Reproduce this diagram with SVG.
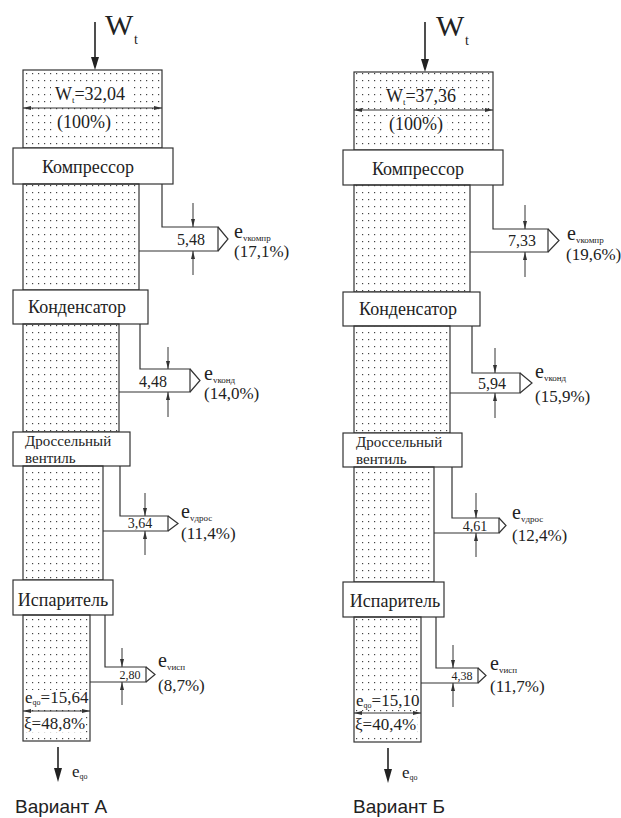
<svg xmlns="http://www.w3.org/2000/svg" width="621" height="818" viewBox="0 0 621 818">
<defs>
<pattern id="dots" patternUnits="userSpaceOnUse" width="6" height="7">
<rect x="2" y="3" width="1.2" height="1.2" fill="#444"/>
</pattern>
<marker id="ah" viewBox="0 0 8 4" refX="8" refY="2" markerWidth="8" markerHeight="4" markerUnits="userSpaceOnUse" orient="auto-start-reverse">
<path d="M0,0 L8,2 L0,4 z" fill="#333"/>
</marker>
</defs>
<style>
.ln{fill:none;stroke:#333;stroke-width:1.2}
.box{fill:#fff;stroke:#333;stroke-width:1.2}
.dot{fill:url(#dots);stroke:#333;stroke-width:1.2}
.dim{fill:none;stroke:#333;stroke-width:1}
.big{stroke:#222;stroke-width:1.6;fill:none}
.head{fill:#222}
text{font-family:"Liberation Serif","DejaVu Serif",serif;fill:#222}
.n18{font-size:18px}
.n16{font-size:15px}
.v16{font-size:16px}
.v14{font-size:14px}
.v12{font-size:12px}
.p17{font-size:17px}
.e20{font-size:20px}
.sub{font-size:9px}
.cap{font-family:"Liberation Sans",Arial,sans-serif;font-size:19px}
.bg{fill:#fff}
</style>

<!-- ===== Variant A ===== -->
<g id="a-input">
<line class="big" x1="95" y1="22" x2="95" y2="60"/>
<polygon class="head" points="91,57 99,57 95,70"/>
<text x="105" y="35" font-size="30">W</text>
<text x="134" y="44" font-size="14">t</text>
</g>
<g id="a-work">
<rect class="dot" x="23" y="70" width="139" height="78"/>
<rect class="bg" x="51" y="87" width="79" height="16"/>
<rect class="bg" x="54" y="114" width="61" height="18"/>
<text class="n18" x="90" y="100" text-anchor="middle">W<tspan font-size="9" dy="3">t</tspan><tspan dy="-3">=32,04</tspan></text>
<line class="dim" x1="23" y1="108" x2="162" y2="108" marker-start="url(#ah)" marker-end="url(#ah)"/>
<text class="n18" x="84" y="128" text-anchor="middle">(100%)</text>
</g>
<g id="a-compressor">
<rect class="box" x="13" y="148" width="160" height="36"/>
<text class="n18" x="88" y="173" text-anchor="middle">Компрессор</text>
</g>
<g id="a-stream1"><rect class="dot" x="23" y="184" width="116" height="106"/></g>
<g id="a-condenser">
<rect class="box" x="13" y="290" width="135" height="34"/>
<text class="n18" x="77" y="313" text-anchor="middle">Конденсатор</text>
</g>
<g id="a-stream2"><rect class="dot" x="23" y="324" width="96" height="108"/></g>
<g id="a-valve">
<rect class="box" x="13" y="432" width="117" height="34"/>
<text class="n16" x="25" y="446">Дроссельный</text>
<text class="n16" x="25" y="463">вентиль</text>
</g>
<g id="a-stream3"><rect class="dot" x="23" y="466" width="80" height="114"/></g>
<g id="a-evaporator">
<rect class="box" x="13" y="580" width="100" height="35"/>
<text class="n18" x="63" y="606" text-anchor="middle">Испаритель</text>
</g>
<g id="a-output">
<rect class="dot" x="23" y="615" width="67" height="126"/>
<rect class="bg" x="24" y="690" width="64" height="16"/>
<rect class="bg" x="24" y="715" width="62" height="17"/>
<text class="p17" x="25" y="703">e<tspan font-size="8" dy="2">qo</tspan><tspan dy="-2">=15,64</tspan></text>
<line class="dim" x1="23" y1="711" x2="90" y2="711" marker-start="url(#ah)" marker-end="url(#ah)"/>
<text class="p17" x="24" y="729">ξ=48,8%</text>
<line class="big" x1="58" y1="747" x2="58" y2="772" stroke-width="2"/>
<polygon class="head" points="54,768 62,768 58,782"/>
<text class="p17" x="72" y="777">e<tspan font-size="8" dy="2">qo</tspan></text>
<text class="cap" x="15" y="813">Вариант А</text>
</g>
<g id="a-connectors">
<path class="ln" d="M162,184 V227 H218 V251 H139"/>
<path class="ln" d="M218,227 L228,239 L218,251"/>
<line class="dim" x1="193" y1="203" x2="193" y2="227" marker-end="url(#ah)"/>
<line class="dim" x1="193" y1="275" x2="193" y2="251" marker-end="url(#ah)"/>
<text class="v16" x="191" y="245" text-anchor="middle">5,48</text>
<text class="e20" x="234" y="238">e<tspan class="sub" dy="3">vкомпр</tspan></text>
<text class="p17" x="234" y="257">(17,1%)</text>

<path class="ln" d="M140,324 V369 H190 V392 H119"/>
<path class="ln" d="M190,369 L200,380.5 L190,392"/>
<line class="dim" x1="168" y1="347" x2="168" y2="369" marker-end="url(#ah)"/>
<line class="dim" x1="168" y1="417" x2="168" y2="392" marker-end="url(#ah)"/>
<text class="v16" x="153" y="387" text-anchor="middle">4,48</text>
<text class="e20" x="204" y="380">e<tspan class="sub" dy="3">vконд</tspan></text>
<text class="p17" x="204" y="399">(14,0%)</text>

<path class="ln" d="M120,466 V516 H168 V531 H103"/>
<path class="ln" d="M168,516 L178,523.5 L168,531"/>
<line class="dim" x1="145" y1="493" x2="145" y2="516" marker-end="url(#ah)"/>
<line class="dim" x1="145" y1="555" x2="145" y2="531" marker-end="url(#ah)"/>
<text class="v14" x="140" y="528" text-anchor="middle">3,64</text>
<text class="e20" x="181" y="518">e<tspan class="sub" dy="3">vдрос</tspan></text>
<text class="p17" x="181" y="539">(11,4%)</text>

<path class="ln" d="M105,615 V667 H146 V682 H90"/>
<path class="ln" d="M146,667 L155,674.5 L146,682"/>
<line class="dim" x1="122" y1="648" x2="122" y2="667" marker-end="url(#ah)"/>
<line class="dim" x1="122" y1="705" x2="122" y2="682" marker-end="url(#ah)"/>
<text class="v12" x="130" y="679" text-anchor="middle">2,80</text>
<text class="e20" x="158" y="667">e<tspan class="sub" dy="3">vисп</tspan></text>
<text class="p17" x="158" y="691">(8,7%)</text>
</g>

<!-- ===== Variant B ===== -->
<g id="b-input">
<line class="big" x1="425" y1="22" x2="425" y2="62"/>
<polygon class="head" points="421,59 429,59 425,72"/>
<text x="436" y="36" font-size="30">W</text>
<text x="465" y="45" font-size="14">t</text>
</g>
<g id="b-work">
<rect class="dot" x="354" y="72" width="139" height="78"/>
<rect class="bg" x="383" y="89" width="77" height="16"/>
<rect class="bg" x="386" y="116" width="61" height="18"/>
<text class="n18" x="421" y="102" text-anchor="middle">W<tspan font-size="9" dy="3">t</tspan><tspan dy="-3">=37,36</tspan></text>
<line class="dim" x1="354" y1="110" x2="493" y2="110" marker-start="url(#ah)" marker-end="url(#ah)"/>
<text class="n18" x="416" y="130" text-anchor="middle">(100%)</text>
</g>
<g id="b-compressor">
<rect class="box" x="343" y="150" width="160" height="35"/>
<text class="n18" x="418" y="175" text-anchor="middle">Компрессор</text>
</g>
<g id="b-stream1"><rect class="dot" x="354" y="185" width="116" height="107"/></g>
<g id="b-condenser">
<rect class="box" x="343" y="292" width="137" height="34"/>
<text class="n18" x="408" y="315" text-anchor="middle">Конденсатор</text>
</g>
<g id="b-stream2"><rect class="dot" x="354" y="326" width="96" height="107"/></g>
<g id="b-valve">
<rect class="box" x="343" y="433" width="119" height="34"/>
<text class="n16" x="356" y="447">Дроссельный</text>
<text class="n16" x="356" y="464">вентиль</text>
</g>
<g id="b-stream3"><rect class="dot" x="354" y="467" width="80" height="115"/></g>
<g id="b-evaporator">
<rect class="box" x="343" y="582" width="101" height="35"/>
<text class="n18" x="395" y="607" text-anchor="middle">Испаритель</text>
</g>
<g id="b-output">
<rect class="dot" x="354" y="617" width="67" height="125"/>
<rect class="bg" x="355" y="692" width="64" height="16"/>
<rect class="bg" x="355" y="716" width="62" height="17"/>
<text class="p17" x="356" y="706">e<tspan font-size="8" dy="2">qo</tspan><tspan dy="-2">=15,10</tspan></text>
<line class="dim" x1="354" y1="713" x2="421" y2="713" marker-start="url(#ah)" marker-end="url(#ah)"/>
<text class="p17" x="355" y="730">ξ=40,4%</text>
<line class="big" x1="388" y1="748" x2="388" y2="773" stroke-width="2"/>
<polygon class="head" points="384,769 392,769 388,783"/>
<text class="p17" x="402" y="778">e<tspan font-size="8" dy="2">qo</tspan></text>
<text class="cap" x="353" y="813">Вариант Б</text>
</g>
<g id="b-connectors">
<path class="ln" d="M493,185 V229 H548 V252 H470"/>
<path class="ln" d="M548,229 L559,240.5 L548,252"/>
<line class="dim" x1="525" y1="205" x2="525" y2="229" marker-end="url(#ah)"/>
<line class="dim" x1="525" y1="277" x2="525" y2="252" marker-end="url(#ah)"/>
<text class="v16" x="522" y="246" text-anchor="middle">7,33</text>
<text class="e20" x="567" y="240">e<tspan class="sub" dy="3">vкомпр</tspan></text>
<text class="p17" x="566" y="260">(19,6%)</text>

<path class="ln" d="M472,326 V373 H520 V393 H450"/>
<path class="ln" d="M520,373 L532,383 L520,393"/>
<line class="dim" x1="495" y1="348" x2="495" y2="373" marker-end="url(#ah)"/>
<line class="dim" x1="495" y1="418" x2="495" y2="393" marker-end="url(#ah)"/>
<text class="v16" x="492" y="389" text-anchor="middle">5,94</text>
<text class="e20" x="535" y="378">e<tspan class="sub" dy="3">vконд</tspan></text>
<text class="p17" x="535" y="402">(15,9%)</text>

<path class="ln" d="M452,467 V518 H499 V533 H434"/>
<path class="ln" d="M499,518 L506,525.5 L499,533"/>
<line class="dim" x1="476" y1="493" x2="476" y2="518" marker-end="url(#ah)"/>
<line class="dim" x1="476" y1="557" x2="476" y2="533" marker-end="url(#ah)"/>
<text class="v14" x="475" y="531" text-anchor="middle">4,61</text>
<text class="e20" x="512" y="519">e<tspan class="sub" dy="3">vдрос</tspan></text>
<text class="p17" x="512" y="541">(12,4%)</text>

<path class="ln" d="M436,617 V668 H478 V683 H421"/>
<path class="ln" d="M478,668 L486,675.5 L478,683"/>
<line class="dim" x1="453" y1="645" x2="453" y2="668" marker-end="url(#ah)"/>
<line class="dim" x1="453" y1="707" x2="453" y2="683" marker-end="url(#ah)"/>
<text class="v12" x="462" y="680" text-anchor="middle">4,38</text>
<text class="e20" x="490" y="670">e<tspan class="sub" dy="3">vисп</tspan></text>
<text class="p17" x="490" y="692">(11,7%)</text>
</g>
</svg>
